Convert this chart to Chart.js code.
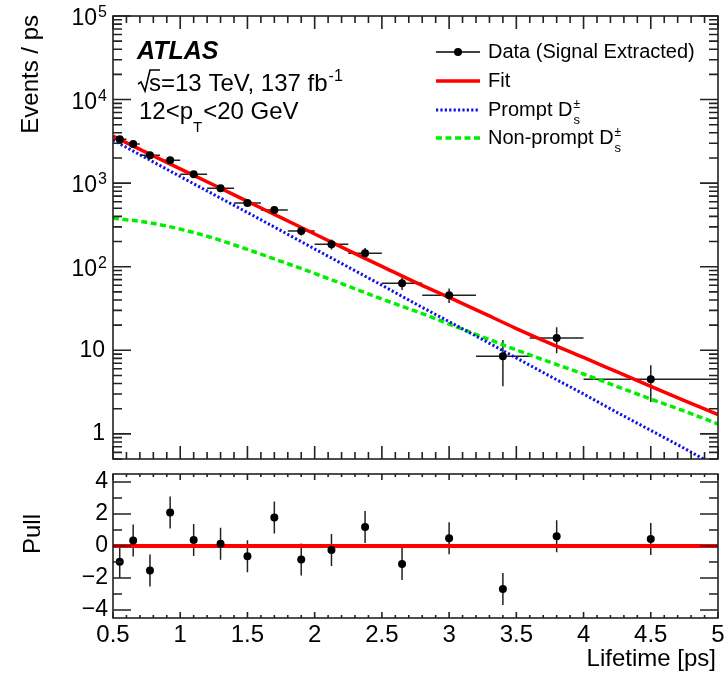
<!DOCTYPE html>
<html>
<head>
<meta charset="utf-8">
<script src="https://cdn.jsdelivr.net/npm/chart.js@4.4.1/dist/chart.umd.min.js"></script>
<style>
  html, body { margin: 0; padding: 0; background: #fff; }
  #wrap { position: relative; width: 726px; height: 681px; }
  canvas { position: absolute; left: 0; }
  #main { top: 0; }
  #pull { top: 470px; }
</style>
</head>
<body>
<div id="wrap">
  <canvas id="main" width="726" height="470"></canvas>
  <canvas id="pull" width="726" height="211"></canvas>
</div>
<script>
// bins of the lifetime histogram
const binLo    = [0.5, 0.6, 0.7, 0.85, 1.0, 1.2, 1.4, 1.6, 1.8, 2.0, 2.25, 2.5, 2.8, 3.2, 3.6, 4.0];
const binHi    = [0.6, 0.7, 0.85, 1.0, 1.2, 1.4, 1.6, 1.8, 2.0, 2.25, 2.5, 2.8, 3.2, 3.6, 4.0, 5.0];
const lifetime = [0.55, 0.65, 0.775, 0.925, 1.1, 1.3, 1.5, 1.7, 1.9, 2.125, 2.375, 2.65, 3.0, 3.4, 3.8, 4.5];
const events    = [3360, 2930, 2160, 1885, 1280, 871, 577, 476, 267, 186, 145, 63.6, 45.7, 8.5, 14, 4.5];
const eventsErr = [150, 130, 100, 90, 70, 55, 45, 40, 30, 25, 22, 11, 9, 4.8, 4.8, 2.1];
const pull    = [-0.98, 0.35, -1.53, 2.1, 0.37, 0.14, -0.64, 1.78, -0.84, -0.25, 1.18, -1.12, 0.49, -2.68, 0.61, 0.43];
const pullErr = [1, 1, 1, 1, 1, 1, 1, 1, 1, 1, 1, 1, 1, 1, 1, 1];

// fitted curves
const curveT         = [0.5, 0.75, 1.0, 1.25, 1.5, 1.75, 2.0, 2.25, 2.5, 2.75, 3.0, 3.25, 3.5, 3.75, 4.0, 4.25, 4.5, 4.75, 5.0];
const fitCurve       = [3650, 2320, 1480, 950, 605, 386, 246, 157, 101, 65, 43, 28, 18.2, 12.1, 8.2, 5.5, 3.7, 2.5, 1.7];
const promptCurve    = [3270, 1980, 1200, 730, 445, 270, 163, 99, 60, 36, 22, 13.4, 8.1, 4.9, 3.0, 1.8, 1.1, 0.67, 0.40];
const nonPromptCurve = [381, 340, 282, 219, 161, 116, 83, 58.5, 41, 29.4, 20.6, 14.4, 10.1, 7.2, 5.2, 3.68, 2.61, 1.87, 1.31];
const pullLineX = [0.5, 5];
const pullLineY = [0, 0];

// tick labels
const xTicks = [0.5, 1, 1.5, 2, 2.5, 3, 3.5, 4, 4.5, 5];
const xTickLabels = ['0.5', '1', '1.5', '2', '2.5', '3', '3.5', '4', '4.5', '5'];
const logTicks = [1, 10, 100, 1000, 10000, 100000];
const logTickLabels = [['1', ''], ['10', ''], ['10', '2'], ['10', '3'], ['10', '4'], ['10', '5']];
const pullTicks = [-4, -2, 0, 2, 4];
const pullTickLabels = ['\u22124', '\u22122', '0', '2', '4'];

const FONT = '"Liberation Sans", Arial, Helvetica, sans-serif';
const RED = '#ff0000', BLUE = '#1010e8', GREEN = '#00ee00';

function text(ctx, s, x, y, size, align, base, style) {
  ctx.font = (style || '') + ' ' + size + 'px ' + FONT;
  ctx.textAlign = align || 'left';
  ctx.textBaseline = base || 'alphabetic';
  ctx.fillText(s, x, y);
  return ctx.measureText(s).width;
}

function xTickMarks(chart, maj, min) {
  const { ctx, chartArea: a, scales: { x } } = chart;
  for (let k = 5; k <= 50; k++) {
    const px = x.getPixelForValue(k / 10);
    const len = k % 5 === 0 ? maj : min;
    ctx.moveTo(px, a.bottom); ctx.lineTo(px, a.bottom - len);
    ctx.moveTo(px, a.top); ctx.lineTo(px, a.top + len);
  }
}

function drawDs(ctx, x, y) {
  // D with stacked ± and subscript s
  const w = text(ctx, 'D', x, y, 20, 'left', 'middle');
  text(ctx, '\u00b1', x + w + 1, y - 5, 12, 'left', 'middle');
  text(ctx, 's', x + w + 1, y + 10, 13, 'left', 'middle');
}

const mainDecor = {
  id: 'mainDecor',
  beforeDatasetsDraw(chart) {
    const { ctx, scales: { x, y } } = chart;
    ctx.save();
    ctx.strokeStyle = '#222';
    ctx.lineWidth = 1.5;
    ctx.beginPath();
    lifetime.forEach((t, i) => {
      const py = y.getPixelForValue(events[i]);
      const px = x.getPixelForValue(t);
      ctx.moveTo(x.getPixelForValue(binLo[i]), py);
      ctx.lineTo(x.getPixelForValue(binHi[i]), py);
      ctx.moveTo(px, y.getPixelForValue(events[i] + eventsErr[i]));
      ctx.lineTo(px, y.getPixelForValue(events[i] - eventsErr[i]));
    });
    ctx.stroke();
    ctx.restore();
  },
  afterDraw(chart) {
    const { ctx, chartArea: a, scales: { y } } = chart;
    ctx.save();
    ctx.strokeStyle = '#222';
    ctx.lineWidth = 1.6;
    ctx.beginPath();
    xTickMarks(chart, 13, 7);
    for (let e = -1; e <= 5; e++) {
      for (let m = 1; m < 10; m++) {
        const v = m * Math.pow(10, e);
        if (v < 0.5 || v > 100000) continue;
        const py = y.getPixelForValue(v);
        const len = m === 1 ? 18 : 9;
        ctx.moveTo(a.left, py); ctx.lineTo(a.left + len, py);
        ctx.moveTo(a.right, py); ctx.lineTo(a.right - len, py);
      }
    }
    ctx.stroke();
    ctx.strokeRect(a.left, a.top, a.right - a.left, a.bottom - a.top);

    ctx.fillStyle = '#000';
    // y tick labels
    logTicks.forEach((v, i) => {
      const py = y.getPixelForValue(v);
      const [base, sup] = logTickLabels[i];
      if (sup) {
        ctx.font = '16px ' + FONT;
        const w = ctx.measureText(sup).width;
        text(ctx, sup, 107 - w, py + 1, 16, 'left', 'alphabetic');
        text(ctx, base, 106 - w, py + 3, 23, 'right', 'middle');
      } else {
        text(ctx, base, 105, py, 23, 'right', 'middle');
      }
    });

    // y title
    ctx.save();
    ctx.translate(38, 15);
    ctx.rotate(-Math.PI / 2);
    text(ctx, 'Events / ps', 0, 0, 24, 'right', 'alphabetic');
    ctx.restore();

    // ATLAS labels
    text(ctx, 'ATLAS', 137, 59, 25, 'left', 'alphabetic', 'italic bold');
    ctx.lineWidth = 1.6;
    ctx.strokeStyle = '#000';
    ctx.beginPath();
    ctx.moveTo(138, 84); ctx.lineTo(141, 82); ctx.lineTo(145, 91); ctx.lineTo(150, 70); ctx.lineTo(160, 70);
    ctx.stroke();
    let w = text(ctx, 's=13 TeV, 137 fb', 149, 91, 24);
    text(ctx, '-1', 149 + w + 1, 81, 16);
    w = text(ctx, '12<p', 139, 119, 24);
    const w2 = text(ctx, 'T', 139 + w, 132, 15);
    text(ctx, '<20 GeV', 139 + w + w2 + 1, 119, 24);

    // legend
    const lx0 = 436, lx1 = 480, tx = 488;
    const rows = [52, 81, 110, 138];
    ctx.lineCap = 'butt';
    ctx.strokeStyle = '#000'; ctx.lineWidth = 1.5;
    ctx.beginPath(); ctx.moveTo(lx0, rows[0]); ctx.lineTo(lx1, rows[0]); ctx.stroke();
    ctx.beginPath(); ctx.arc(458, rows[0], 4, 0, 2 * Math.PI); ctx.fill();
    text(ctx, 'Data (Signal Extracted)', tx, rows[0], 20, 'left', 'middle');
    ctx.strokeStyle = RED; ctx.lineWidth = 3.5;
    ctx.beginPath(); ctx.moveTo(lx0, rows[1]); ctx.lineTo(lx1, rows[1]); ctx.stroke();
    text(ctx, 'Fit', tx, rows[1], 20, 'left', 'middle');
    ctx.strokeStyle = BLUE; ctx.lineWidth = 3; ctx.setLineDash([2.2, 2.2]);
    ctx.beginPath(); ctx.moveTo(lx0, rows[2]); ctx.lineTo(lx1, rows[2]); ctx.stroke();
    ctx.strokeStyle = GREEN; ctx.lineWidth = 3.5; ctx.setLineDash([6, 3.5]);
    ctx.beginPath(); ctx.moveTo(lx0, rows[3]); ctx.lineTo(lx1, rows[3]); ctx.stroke();
    ctx.setLineDash([]);
    w = text(ctx, 'Prompt ', tx, rows[2], 20, 'left', 'middle');
    drawDs(ctx, tx + w, rows[2]);
    w = text(ctx, 'Non-prompt ', tx, rows[3], 20, 'left', 'middle');
    drawDs(ctx, tx + w, rows[3]);
    ctx.restore();
  }
};

const pullDecor = {
  id: 'pullDecor',
  beforeDatasetsDraw(chart) {
    const { ctx, scales: { x, y } } = chart;
    ctx.save();
    ctx.strokeStyle = '#222';
    ctx.lineWidth = 1.5;
    ctx.beginPath();
    lifetime.forEach((t, i) => {
      const px = x.getPixelForValue(t);
      ctx.moveTo(px, y.getPixelForValue(pull[i] + pullErr[i]));
      ctx.lineTo(px, y.getPixelForValue(pull[i] - pullErr[i]));
    });
    ctx.stroke();
    ctx.restore();
  },
  afterDraw(chart) {
    const { ctx, chartArea: a, scales: { x, y } } = chart;
    ctx.save();
    ctx.strokeStyle = '#222';
    ctx.lineWidth = 1.6;
    ctx.beginPath();
    xTickMarks(chart, 6, 3);
    for (let v = -4; v <= 4; v++) {
      const py = y.getPixelForValue(v);
      const len = v % 2 === 0 ? 18 : 9;
      ctx.moveTo(a.left, py); ctx.lineTo(a.left + len, py);
      ctx.moveTo(a.right, py); ctx.lineTo(a.right - len, py);
    }
    ctx.stroke();
    ctx.strokeRect(a.left, a.top, a.right - a.left, a.bottom - a.top);

    ctx.fillStyle = '#000';
    pullTicks.forEach((v, i) => {
      text(ctx, pullTickLabels[i], 108, y.getPixelForValue(v), 23, 'right', 'middle');
    });
    xTicks.forEach((v, i) => {
      text(ctx, xTickLabels[i], x.getPixelForValue(v), a.bottom + 5, 24, 'center', 'top');
    });
    text(ctx, 'Lifetime [ps]', 716, 196, 24, 'right', 'alphabetic');

    ctx.save();
    ctx.translate(40, 64);
    ctx.rotate(-Math.PI / 2);
    text(ctx, 'Pull', 0, 0, 24, 'center', 'alphabetic');
    ctx.restore();
    ctx.restore();
  }
};

const common = {
  responsive: false,
  animation: false,
  devicePixelRatio: 1,
  events: [],
  plugins: { legend: { display: false }, tooltip: { enabled: false } }
};

new Chart(document.getElementById('main'), {
  type: 'scatter',
  data: {
    datasets: [
      { label: 'Data', data: lifetime.map((t, i) => ({ x: t, y: events[i] })),
        pointRadius: 4, pointBackgroundColor: '#000', pointBorderWidth: 0, showLine: false, order: 0 },
      { label: 'Fit', type: 'line', data: curveT.map((t, i) => ({ x: t, y: fitCurve[i] })),
        borderColor: RED, borderWidth: 3.5, pointRadius: 0, fill: false, cubicInterpolationMode: 'monotone', order: 1 },
      { label: 'Prompt', type: 'line', data: curveT.map((t, i) => ({ x: t, y: promptCurve[i] })),
        borderColor: BLUE, borderWidth: 3, borderDash: [2.2, 2.2], pointRadius: 0, fill: false, tension: 0, order: 2 },
      { label: 'Non-prompt', type: 'line', data: curveT.map((t, i) => ({ x: t, y: nonPromptCurve[i] })),
        borderColor: GREEN, borderWidth: 3.5, borderDash: [6, 3.5], pointRadius: 0, fill: false, cubicInterpolationMode: 'monotone', order: 3 }
    ]
  },
  options: Object.assign({}, common, {
    layout: { padding: { left: 113, right: 8, top: 16, bottom: 11 } },
    scales: {
      x: { type: 'linear', min: 0.5, max: 5, display: false },
      y: { type: 'logarithmic', min: 0.5, max: 100000, display: false }
    }
  }),
  plugins: [mainDecor]
});

new Chart(document.getElementById('pull'), {
  type: 'scatter',
  data: {
    datasets: [
      { label: 'Pull', data: lifetime.map((t, i) => ({ x: t, y: pull[i] })),
        pointRadius: 4, pointBackgroundColor: '#000', pointBorderWidth: 0, showLine: false, order: 0 },
      { label: 'Zero', type: 'line', data: pullLineX.map((t, i) => ({ x: t, y: pullLineY[i] })),
        borderColor: RED, borderWidth: 4, pointRadius: 0, fill: false, order: 1 }
    ]
  },
  options: Object.assign({}, common, {
    layout: { padding: { left: 113, right: 8, top: 1, bottom: 63 } },
    scales: {
      x: { type: 'linear', min: 0.5, max: 5, display: false },
      y: { type: 'linear', min: -4.5, max: 4.5, display: false }
    }
  }),
  plugins: [pullDecor]
});
</script>
</body>
</html>
